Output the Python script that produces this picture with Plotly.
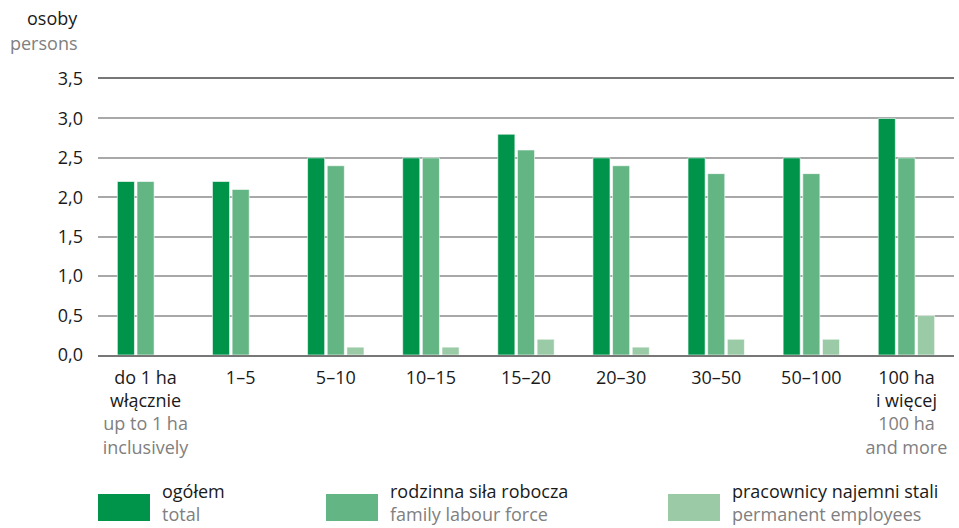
import plotly.graph_objects as go

# Farm size groups (Polish / English)
groups_pl = ["do 1 ha<br>włącznie", "1–5", "5–10", "10–15", "15–20", "20–30", "30–50", "50–100", "100 ha<br>i więcej"]
groups_en = ["up to 1 ha<br>inclusively", "", "", "", "", "", "", "", "100 ha<br>and more"]

# Persons per farm
total = [2.2, 2.2, 2.5, 2.5, 2.8, 2.5, 2.5, 2.5, 3.0]
family = [2.2, 2.1, 2.4, 2.5, 2.6, 2.4, 2.3, 2.3, 2.5]
permanent = [0.0, 0.0, 0.1, 0.1, 0.2, 0.1, 0.2, 0.2, 0.5]

series_pl = ["ogółem", "rodzinna siła robocza", "pracownicy najemni stali"]
series_en = ["total", "family labour force", "permanent employees"]
colors = ["#00944a", "#63b584", "#9acba6"]

y_ticks = [0, 0.5, 1.0, 1.5, 2.0, 2.5, 3.0, 3.5]
y_labels = ["0,0", "0,5", "1,0", "1,5", "2,0", "2,5", "3,0", "3,5"]

GRAY = "#808080"
FONT = "Open Sans"
FS = 18

W, H = 959, 528
ML, MR, MT, MB = 98, 5, 79, 173
PW = W - ML - MR
PH = H - MT - MB

fig = go.Figure()
x = list(range(len(groups_pl)))
for vals, name, col in zip([total, family, permanent], series_pl, colors):
    fig.add_trace(go.Bar(
        x=x, y=vals, name=name,
        marker=dict(color=col, line=dict(color="rgba(255,255,255,0.6)", width=1)),
        showlegend=False,
    ))

ticktext = []
for pl, en in zip(groups_pl, groups_en):
    t = pl
    if en:
        t += "<br>" + "<br>".join(f"<span style='color:{GRAY}'>{p}</span>" for p in en.split("<br>"))
    ticktext.append(t)

fig.update_layout(
    width=W, height=H,
    margin=dict(l=ML, r=MR, t=MT, b=MB),
    paper_bgcolor="white", plot_bgcolor="white",
    barmode="group", bargap=0.38, bargroupgap=0.13,
    font=dict(family=FONT, size=FS, color="#1a1a1a"),
    xaxis=dict(
        tickvals=x, ticktext=ticktext, range=[-0.5, len(x) - 0.5],
        showgrid=False, showline=True, mirror=True, linecolor="#777777", linewidth=2,
        ticks="", ticklabelstandoff=5, tickfont=dict(size=FS),
    ),
    yaxis=dict(
        range=[0, 3.5], tickvals=y_ticks, ticktext=y_labels,
        showgrid=True, gridcolor="#a8a8a8", gridwidth=1.5, zeroline=False,
        showline=False, ticks="", ticklabelstandoff=14, tickfont=dict(size=FS),
    ),
)

# Axis unit
fig.add_annotation(xref="paper", yref="paper", x=(80 - ML) / PW, y=(H - MB - 18) / PH,
                   xanchor="right", yanchor="middle", showarrow=False,
                   text="osoby", font=dict(size=FS, color="#1a1a1a"))
fig.add_annotation(xref="paper", yref="paper", x=(80 - ML) / PW, y=(H - MB - 43) / PH,
                   xanchor="right", yanchor="middle", showarrow=False,
                   text="persons", font=dict(size=FS, color=GRAY))

# Legend: swatch + two-line label
legend_x = [98, 326, 668]
for lx, col, pl, en in zip(legend_x, colors, series_pl, series_en):
    fig.add_shape(type="rect", xref="paper", yref="paper",
                  x0=(lx - ML) / PW, x1=(lx + 52 - ML) / PW,
                  y0=(H - MB - 521) / PH, y1=(H - MB - 494) / PH,
                  fillcolor=col, line=dict(width=0))
    fig.add_annotation(xref="paper", yref="paper", x=(lx + 63 - ML) / PW, y=(H - MB - 527) / PH,
                       xanchor="left", yanchor="bottom", showarrow=False, align="left",
                       borderpad=0,
                       text=f"{pl}<br><span style='color:{GRAY}'>{en}</span>",
                       font=dict(size=FS, color="#1a1a1a"))

fig.write_html("out.html")
